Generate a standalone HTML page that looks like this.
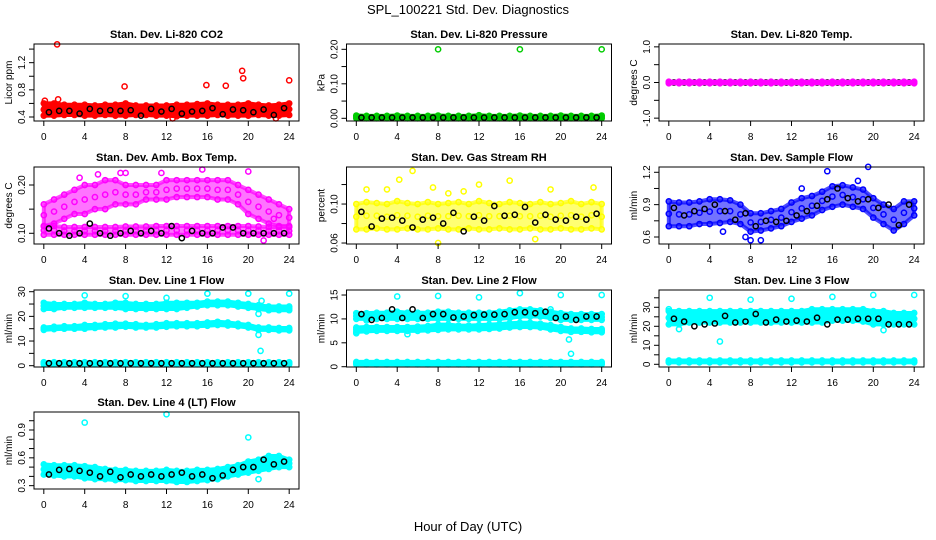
<!DOCTYPE html>
<html><head><meta charset="utf-8">
<style>
body{margin:0;background:#fff;}
svg{display:block;font-family:"Liberation Sans",Arial,sans-serif;}
.t{font-weight:bold;font-size:11px;}
.tk{font-size:10px;}
</style></head>
<body>
<svg id="chart" width="936" height="540" viewBox="0 0 936 540">
<text x="468" y="14" text-anchor="middle" font-size="13">SPL_100221  Std. Dev. Diagnostics</text>
<text x="468" y="531" text-anchor="middle" font-size="13">Hour of Day (UTC)</text>
</svg>
<script>
// ---- shared categories ----
const HOURS = [0,1,2,3,4,5,6,7,8,9,10,11,12,13,14,15,16,17,18,19,20,21,22,23,24];
const BLACK_HOURS = [0.5,1.5,2.5,3.5,4.5,5.5,6.5,7.5,8.5,9.5,10.5,11.5,12.5,13.5,14.5,15.5,16.5,17.5,18.5,19.5,20.5,21.5,22.5,23.5];
const X_TICKS = [0,4,8,12,16,20,24];

// ---- CO2 ----
const co2Lo = [0.42,0.42,0.43,0.43,0.42,0.42,0.43,0.42,0.42,0.43,0.43,0.42,0.42,0.41,0.42,0.42,0.42,0.43,0.42,0.42,0.42,0.43,0.42,0.42,0.43];
const co2Hi = [0.6,0.6,0.58,0.58,0.58,0.57,0.58,0.58,0.6,0.57,0.57,0.57,0.57,0.58,0.58,0.59,0.6,0.58,0.58,0.58,0.6,0.58,0.57,0.58,0.6];
const co2OutX = [1.3,7.9,15.9,17.8,19.4,19.5,24,0.1,1.4,12.6,22.7];
const co2OutY = [1.47,0.85,0.87,0.86,1.08,0.97,0.94,0.64,0.66,0.38,0.38];
const co2Black = [0.47,0.49,0.49,0.45,0.52,0.49,0.5,0.49,0.5,0.42,0.52,0.48,0.52,0.45,0.48,0.49,0.53,0.44,0.51,0.5,0.47,0.51,0.43,0.53];
// ---- Pressure ----
const presLo = [0,0,0,0,0,0,0,0,0,0,0,0,0,0,0,0,0,0,0,0,0,0,0,0,0];
const presHi = [0.008,0.007,0.007,0.007,0.008,0.007,0.007,0.007,0.008,0.007,0.007,0.007,0.009,0.007,0.007,0.007,0.008,0.007,0.007,0.007,0.008,0.007,0.007,0.007,0.008];
const presOutX = [8,16,24];
const presOutY = [0.2,0.2,0.2];
const presBlack = [0.002,0.002,0.002,0.002,0.002,0.002,0.002,0.002,0.002,0.002,0.002,0.002,0.002,0.002,0.002,0.002,0.002,0.002,0.002,0.002,0.002,0.002,0.002,0.002];
// ---- Temp ----
const tempLo = [-0.02,-0.02,-0.02,-0.02,-0.02,-0.02,-0.02,-0.02,-0.02,-0.02,-0.02,-0.02,-0.02,-0.02,-0.02,-0.02,-0.02,-0.02,-0.02,-0.02,-0.02,-0.02,-0.02,-0.02,-0.02];
const tempHi = [0.02,0.02,0.02,0.02,0.02,0.02,0.02,0.02,0.02,0.02,0.02,0.02,0.02,0.02,0.02,0.02,0.02,0.02,0.02,0.02,0.02,0.02,0.02,0.02,0.02];
const tempOutX = [];
const tempOutY = [];
const tempBlack = [0,0,0,0,0,0,0,0,0,0,0,0,0,0,0,0,0,0,0,0,0,0,0,0];
// ---- Amb box temp ----
const ambUpLo = [0.115,0.12,0.13,0.14,0.14,0.15,0.15,0.16,0.16,0.16,0.17,0.17,0.17,0.175,0.175,0.175,0.175,0.17,0.17,0.16,0.14,0.13,0.12,0.115,0.115];
const ambUpHi = [0.16,0.17,0.18,0.19,0.2,0.2,0.21,0.21,0.2,0.2,0.2,0.2,0.21,0.21,0.21,0.21,0.21,0.21,0.21,0.2,0.19,0.18,0.17,0.16,0.15];
const ambLowLo = [0.097,0.097,0.097,0.097,0.097,0.097,0.097,0.097,0.097,0.097,0.097,0.097,0.097,0.097,0.097,0.097,0.097,0.097,0.097,0.097,0.097,0.097,0.097,0.097,0.097];
const ambLowHi = [0.115,0.115,0.113,0.113,0.113,0.113,0.113,0.113,0.114,0.114,0.114,0.115,0.115,0.115,0.115,0.115,0.115,0.115,0.115,0.115,0.115,0.114,0.113,0.113,0.113];
const ambOutX = [7.5,8,11.5,20,5.3,15.5,3.5,22.5,21.5];
const ambOutY = [0.225,0.225,0.225,0.228,0.222,0.232,0.215,0.13,0.085];
const ambBlack = [0.11,0.1,0.095,0.1,0.12,0.1,0.095,0.1,0.105,0.1,0.105,0.1,0.115,0.09,0.105,0.1,0.1,0.112,0.112,0.1,0.1,0.1,0.1,0.1];
// ---- RH ----
const rhLo = [0.074,0.074,0.075,0.074,0.074,0.075,0.074,0.074,0.075,0.074,0.074,0.075,0.074,0.074,0.075,0.074,0.074,0.075,0.074,0.074,0.075,0.074,0.074,0.075,0.074];
const rhHi = [0.1,0.102,0.101,0.1,0.103,0.101,0.1,0.102,0.1,0.101,0.102,0.1,0.103,0.101,0.1,0.102,0.101,0.1,0.102,0.1,0.101,0.103,0.1,0.102,0.1];
const rhOutX = [5.5,4.2,12,15,23.2,1,9,8,17.5,3,10.5,19,7.5];
const rhOutY = [0.134,0.125,0.12,0.124,0.117,0.115,0.111,0.06,0.064,0.115,0.113,0.115,0.117];
const rhBlack = [0.092,0.077,0.085,0.086,0.083,0.076,0.084,0.086,0.08,0.091,0.072,0.087,0.083,0.098,0.088,0.089,0.097,0.081,0.089,0.084,0.083,0.087,0.084,0.09];
// ---- Sample flow ----
const sfLo = [0.7,0.7,0.7,0.72,0.72,0.73,0.74,0.72,0.65,0.66,0.68,0.7,0.74,0.77,0.8,0.85,0.88,0.9,0.88,0.86,0.78,0.72,0.66,0.72,0.8];
const sfHi = [0.93,0.92,0.92,0.93,0.95,0.95,0.94,0.9,0.82,0.82,0.84,0.86,0.92,0.96,0.98,1.02,1.07,1.08,1.06,1.04,0.96,0.9,0.86,0.93,0.93];
const sfOutX = [15.5,19.5,18.5,8,9,13,7.5,5.3];
const sfOutY = [1.21,1.25,1.12,0.57,0.57,1.05,0.6,0.65];
const sfBlack = [0.87,0.8,0.84,0.86,0.9,0.84,0.76,0.82,0.7,0.75,0.74,0.75,0.8,0.84,0.89,0.95,1.05,0.96,0.93,0.95,0.87,0.9,0.71,0.9];
// ---- Line 1 ----
const l1UpLo = [23,23,23.5,23.5,23.5,23.5,23.5,23.5,23,23,23,23,23,23,23.5,24,24.5,24.5,24.5,24,23.5,23,22.5,22.5,22.5];
const l1UpHi = [25.5,25,25,25,25.5,25,25,25.5,25.5,25,25,25,25.5,25.5,25.5,25.5,26,26,26,25.5,25,24.5,24,24,24];
const l1MidLo = [14.5,14.8,15,15,15,15.3,15.5,15.5,15.8,15.5,15.5,15.5,15.8,16,16,16,16.2,16.5,16.3,16,15.5,14.5,14.5,14.3,14.3];
const l1MidHi = [15.5,15.8,16,16,16.5,16.5,16.8,17,17,16.8,16.5,16.8,17.2,17.2,17.2,17.2,17.5,17.8,17.5,17,16.5,15.5,15.5,15.3,15.3];
const l1LowLo = [0.6,0.6,0.6,0.6,0.6,0.6,0.6,0.6,0.6,0.6,0.6,0.6,0.6,0.6,0.6,0.6,0.6,0.6,0.6,0.6,0.6,0.6,0.6,0.6,0.6];
const l1LowHi = [1.4,1.4,1.4,1.4,1.4,1.4,1.4,1.4,1.4,1.4,1.4,1.4,1.4,1.4,1.4,1.4,1.4,1.4,1.4,1.4,1.4,1.4,1.4,1.4,1.4];
const l1OutX = [4,8,12,16,20,24,21,21.2,21,21.3];
const l1OutY = [28.5,28.2,27.5,29.2,29.2,29.2,12.5,6,21,26.3];
const l1Black = [1,1,1,1,1,1,1,1,1,1,1,1,1,1,1,1,1,1,1,1,1,1,1,1];
// ---- Line 2 ----
const l2UpLo = [10,10,10,10,10,10,10,10,10,10,10,10,10,10,10,10.2,10.5,10.5,10.5,10.2,9.8,9.8,9.8,9.8,9.8];
const l2UpHi = [11.2,11.2,11.3,11.3,11.5,11.3,11.3,11.3,11.5,11.5,11.3,11.3,11.3,11.3,11.5,11.8,12,12,11.8,11.5,11.2,11,11,11,11];
const l2MidLo = [7.3,7.4,7.5,7.5,7.5,7.5,7.5,7.6,7.7,7.8,7.8,7.8,7.8,7.9,8,8.2,8.3,8.3,8.2,7.8,7.5,7.3,7.3,7.2,7.2];
const l2MidHi = [8.2,8.3,8.3,8.3,8.3,8.3,8.4,8.5,8.8,8.8,8.6,8.6,8.7,8.8,8.9,9.1,9.2,9.2,9,8.7,8.3,8,8,7.9,7.9];
const l2LowLo = [0.5,0.5,0.5,0.5,0.5,0.5,0.5,0.5,0.5,0.5,0.5,0.5,0.5,0.5,0.5,0.5,0.5,0.5,0.5,0.5,0.5,0.5,0.5,0.5,0.5];
const l2LowHi = [1,1,1,1,1,1,1,1,1,1,1,1,1,1,1,1,1,1,1,1,1,1,1,1,1];
const l2OutX = [4,8,12,16,20,24,20.8,21,0,1,5,19];
const l2OutY = [14.7,14.8,14.5,15.4,15,15,5.7,2.7,7,9.7,6.8,12];
const l2Black = [11,9.8,10.2,12,10.2,12,10.2,11,11,10.3,10.5,10.8,10.9,10.9,11,11.4,11.4,11.2,11.5,10.2,10.5,9.8,10.5,10.5];
// ---- Line 3 ----
const l3UpLo = [21,21,22,22,22,22,22,22,22,22,22,22,22,22,22,22,23,23,23,22.5,21,21,21,21,21];
const l3UpHi = [28,28,28,28,28,28,28,28,28,28,28,28,28,28,29,29,29,29,29,29,28,28,27,27,27];
const l3LowLo = [1,1,1,1,1,1,1,1,1,1,1,1,1,1,1,1,1,1,1,1,1,1,1,1,1];
const l3LowHi = [2,2,2,2,2,2,2,2,2,2,2,2,2,2,2,2,2,2,2,2,2,2,2,2,2];
const l3OutX = [5,4,8,12,16,20,24,21,1,0];
const l3OutY = [12,35,34,34.5,35.5,36.5,36.5,18,18.5,29];
const l3Black = [24,22.5,20,21,21.5,25.5,22,22.5,26.5,22,23.5,22.5,23,22.5,24.5,21,23.5,23.5,24,24,24,21,21,21];
// ---- Line 4 ----
const l4Lo = [0.42,0.41,0.4,0.4,0.38,0.37,0.37,0.36,0.36,0.35,0.35,0.35,0.35,0.34,0.34,0.35,0.36,0.37,0.4,0.42,0.44,0.46,0.48,0.5,0.5];
const l4Hi = [0.53,0.52,0.52,0.52,0.51,0.5,0.48,0.47,0.47,0.46,0.46,0.46,0.47,0.46,0.46,0.47,0.47,0.48,0.5,0.52,0.56,0.58,0.62,0.62,0.58];
const l4OutX = [4,12,20,21];
const l4OutY = [0.98,1.07,0.82,0.37];
const l4Black = [0.42,0.47,0.48,0.46,0.44,0.4,0.45,0.39,0.42,0.4,0.42,0.4,0.42,0.44,0.4,0.42,0.38,0.41,0.47,0.5,0.5,0.58,0.53,0.56];

// ---- y-axis tick arrays ----
const co2Ticks=[0.4,0.6,0.8,1.0,1.2,1.4], co2Labels=["0.4","","0.8","","1.2",""];
const presTicks=[0,0.05,0.1,0.15,0.2], presLabels=["0.00","","0.10","","0.20"];
const tempTicks=[-1,-0.5,0,0.5,1], tempLabels=["-1.0","","0.0","","1.0"];
const ambTicks=[0.10,0.15,0.20], ambLabels=["0.10","","0.20"];
const rhTicks=[0.06,0.08,0.10,0.12], rhLabels=["0.06","","0.10",""];
const sfTicks=[0.6,0.75,0.9,1.05,1.2], sfLabels=["0.6","","0.9","","1.2"];
const l1Ticks=[0,5,10,15,20,25,30], l1Labels=["0","","10","","20","","30"];
const l2Ticks=[0,5,10,15], l2Labels=["0","5","10","15"];
const l3Ticks=[0,5,10,15,20,25,30,35], l3Labels=["0","","10","","20","","30",""];
const l4Ticks=[0.3,0.4,0.5,0.6,0.7,0.8,0.9,1.0], l4Labels=["0.3","","","0.6","","","0.9",""];

const NS="http://www.w3.org/2000/svg";
const svg=document.getElementById('chart');
function mk(tag,attrs,parent){const e=document.createElementNS(NS,tag);for(const k in attrs)e.setAttribute(k,attrs[k]);(parent||svg).appendChild(e);return e;}

const COLL=[34,346.5,659], ROWT=[44,167,290,412], BW=265, BH=77;
const panels=[
 {key:'co2',title:'Stan. Dev. Li-820 CO2',ylab:'Licor ppm',c:0,r:0,lo:0.341,hi:1.475,col:'#ff0000',bands:[[co2Lo,co2Hi]],ox:co2OutX,oy:co2OutY,blk:co2Black,ticks:co2Ticks,labels:co2Labels},
 {key:'pres',title:'Stan. Dev. Li-820 Pressure',ylab:'kPa',c:1,r:0,lo:-0.0078,hi:0.2154,col:'#00cc00',bands:[[presLo,presHi]],ox:presOutX,oy:presOutY,blk:presBlack,ticks:presTicks,labels:presLabels},
 {key:'temp',title:'Stan. Dev. Li-820 Temp.',ylab:'degrees C',c:2,r:0,lo:-1.08,hi:1.08,col:'#ff00ff',bands:[[tempLo,tempHi]],ox:tempOutX,oy:tempOutY,blk:tempBlack,ticks:tempTicks,labels:tempLabels,blackFirst:true},
 {key:'amb',title:'Stan. Dev. Amb. Box Temp.',ylab:'degrees C',c:0,r:1,lo:0.0778,hi:0.2373,col:'#ff00ff',bands:[[ambUpLo,ambUpHi],[ambLowLo,ambLowHi]],ox:ambOutX,oy:ambOutY,blk:ambBlack,ticks:ambTicks,labels:ambLabels,loose:true},
 {key:'rh',title:'Stan. Dev. Gas Stream RH',ylab:'percent',c:1,r:1,lo:0.059,hi:0.138,col:'#ffff00',bands:[[rhLo,rhHi]],ox:rhOutX,oy:rhOutY,blk:rhBlack,ticks:rhTicks,labels:rhLabels,loose:true},
 {key:'sf',title:'Stan. Dev. Sample Flow',ylab:'ml/min',c:2,r:1,lo:0.535,hi:1.249,col:'#0000ff',bands:[[sfLo,sfHi]],ox:sfOutX,oy:sfOutY,blk:sfBlack,ticks:sfTicks,labels:sfLabels,loose:true},
 {key:'l1',title:'Stan. Dev. Line 1 Flow',ylab:'ml/min',c:0,r:2,lo:-0.53,hi:30.69,col:'#00ffff',bands:[[l1UpLo,l1UpHi],[l1MidLo,l1MidHi],[l1LowLo,l1LowHi]],ox:l1OutX,oy:l1OutY,blk:l1Black,ticks:l1Ticks,labels:l1Labels},
 {key:'l2',title:'Stan. Dev. Line 2 Flow',ylab:'ml/min',c:1,r:2,lo:-0.06,hi:16.05,col:'#00ffff',bands:[[l2UpLo,l2UpHi],[l2MidLo,l2MidHi],[l2LowLo,l2LowHi]],ox:l2OutX,oy:l2OutY,blk:l2Black,ticks:l2Ticks,labels:l2Labels},
 {key:'l3',title:'Stan. Dev. Line 3 Flow',ylab:'ml/min',c:2,r:2,lo:-1.42,hi:39.1,col:'#00ffff',bands:[[l3UpLo,l3UpHi],[l3LowLo,l3LowHi]],ox:l3OutX,oy:l3OutY,blk:l3Black,ticks:l3Ticks,labels:l3Labels},
 {key:'l4',title:'Stan. Dev. Line 4 (LT) Flow',ylab:'ml/min',c:0,r:3,lo:0.264,hi:1.094,col:'#00ffff',bands:[[l4Lo,l4Hi]],ox:l4OutX,oy:l4OutY,blk:l4Black,ticks:l4Ticks,labels:l4Labels}
];

panels.forEach(p=>{
  const L=COLL[p.c], T=ROWT[p.r];
  const xs=v=>L+(v+0.96)/25.92*BW;
  const ys=v=>T+BH-(v-p.lo)/(p.hi-p.lo)*BH;
  const g=mk('g',{});
  
  
  const tt=mk('text',{x:L+BW/2,y:T-6,'text-anchor':'middle',class:'t'},g);tt.textContent=p.title;
  
  
  const clip=mk('g',{},g);
  
  
  function circ(x,y,color,parent){const c=mk('circle',{cx:xs(x),cy:ys(y),r:2.6,fill:'none',stroke:color,'stroke-width':1.5},parent);
    
    return c;}
  function drawBlack(){BLACK_HOURS.forEach((h,i)=>circ(h,p.blk[i],'#000',clip));}
  if(p.blackFirst)drawBlack();
  p.bands.forEach(([lo,hi])=>{
    let d='';
    HOURS.forEach((h,i)=>{d+=(i?'L':'M')+xs(h)+','+ys(hi[i]);});
    for(let i=HOURS.length-1;i>=0;i--)d+='L'+xs(HOURS[i])+','+ys(lo[i]);
    const band=mk('path',{d:d+'Z',fill:p.col,stroke:p.col,'stroke-width':4,'fill-opacity':p.loose?0.55:1,'stroke-opacity':p.loose?0.7:1,'stroke-linejoin':'round'},clip);
    
    
    HOURS.forEach((h,i)=>{circ(h,hi[i],p.col,clip);circ(h,lo[i],p.col,clip);circ(h,(hi[i]+lo[i])/2,p.col,clip);});
  });
  p.ox.forEach((x,i)=>circ(x,p.oy[i],p.col,clip));
  if(!p.blackFirst)drawBlack();
  const box=mk('rect',{x:L,y:T,width:BW,height:BH,fill:'none',stroke:'#000','stroke-width':1},g);
  
  
  const xa=mk('g',{},g);
  
  
  mk('line',{x1:xs(0),x2:xs(24),y1:T+BH,y2:T+BH,stroke:'#000'},xa);
  X_TICKS.forEach(v=>{mk('line',{x1:xs(v),x2:xs(v),y1:T+BH,y2:T+BH+5,stroke:'#000'},xa);
    const t=mk('text',{x:xs(v),y:T+BH+19,'text-anchor':'middle',class:'tk'},xa);t.textContent=v;
    
    });
  const ya=mk('g',{},g);
  
  
  mk('line',{x1:L,x2:L,y1:ys(p.ticks[0]),y2:ys(p.ticks[p.ticks.length-1]),stroke:'#000'},ya);
  p.ticks.forEach((v,i)=>{mk('line',{x1:L-5,x2:L,y1:ys(v),y2:ys(v),stroke:'#000'},ya);
    if(p.labels[i]){const t=mk('text',{x:0,y:0,'text-anchor':'middle',class:'tk',transform:`translate(${L-9},${ys(v)}) rotate(-90)`},ya);t.textContent=p.labels[i];
    
    }});
  const yl=mk('text',{x:0,y:0,'text-anchor':'middle','font-size':10,transform:`translate(${L-22},${T+BH/2}) rotate(-90)`},ya);yl.textContent=p.ylab;
  
  
});
</script>
</body></html>
